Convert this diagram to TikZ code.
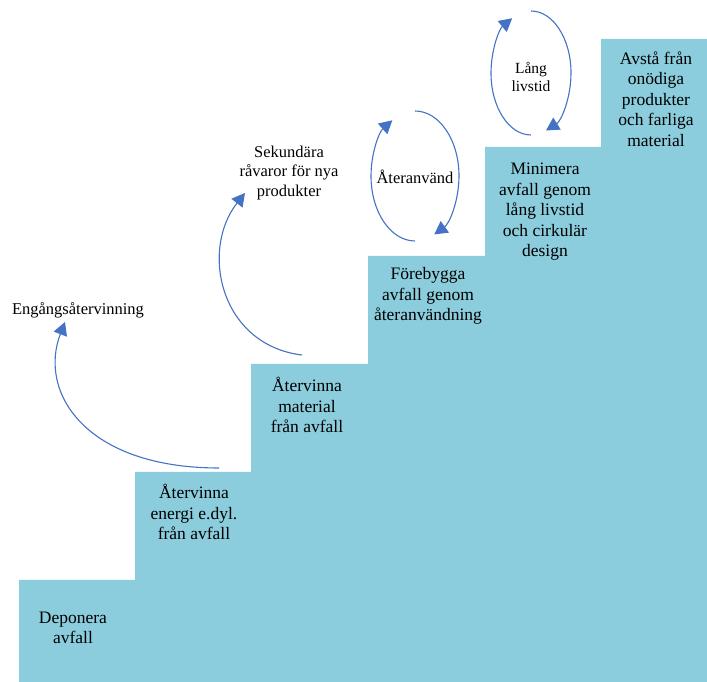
\documentclass[tikz,border=0pt]{standalone}
\usepackage{fontspec}
\setmainfont{Liberation Serif}
\usetikzlibrary{positioning}
\usetikzlibrary{arrows.meta}

\definecolor{stairblue}{RGB}{139,205,221}
\definecolor{flowblue}{RGB}{68,114,196}

\begin{document}
\begin{tikzpicture}[
    x=1pt, y=1pt,
    steptext/.style={align=center, inner sep=0pt, font=\fontsize{17.5}{20.5}\selectfont},
    sidetext/.style={align=center, inner sep=0pt, font=\fontsize{16.5}{19.5}\selectfont},
    flow/.style={draw=flowblue, line width=1.1pt, -{Triangle[length=13pt,width=14pt]}},
  ]
  \useasboundingbox (0,0) rectangle (707,682);

  \fill[stairblue] (19,0) |- (135,102) |- (251,210) |- (368,318) |- (485,426) |- (601,535) |- (707,643) -- (707,0) -- cycle;

  \node [steptext] (D1) at (73,54) {Deponera\\avfall};
  \node [steptext] (D2) at (194,170) {Återvinna\\energi e.dyl.\\från avfall};
  \node [steptext] (D3) at (307,277) {Återvinna\\material\\från avfall};
  \node [steptext] (D4) at (428,386) {Förebygga\\avfall genom\\återanvändning};
  \node [steptext] (D5) at (545,470) {Minimera\\avfall genom\\lång livstid\\och cirkulär\\design};
  \node [steptext] (D6) at (656,583) {Avstå från\\onödiga\\produkter\\och farliga\\material};

  \node [sidetext, anchor=base] (ENG) at (78,367) {Engångsåtervinning};
  \node [sidetext] (SEK) at (289,509) {Sekundära\\råvaror för nya\\produkter};
  \node [sidetext] (REUSE) at (415,505) {Återanvänd};
  \node [sidetext, font=\fontsize{15.5}{18.5}\selectfont] (LIFE) at (531,605) {Lång\\livstid};

  \coordinate (ENGFROM) at (219,214);
  \coordinate (ENGTIP) at (65,360);
  \coordinate (SEKFROM) at (302,327);
  \coordinate (SEKTIP) at (245,489);

  \draw [flow] (ENGFROM) .. controls (85,214) and (38,290) .. (ENGTIP);
  \draw [flow] (SEKFROM) .. controls (220,337) and (200,432) .. (SEKTIP);

  \draw [flow] ([yshift=66pt]REUSE.center) arc[start angle=90, end angle=-64, x radius=44pt, y radius=65pt];
  \draw [flow] ([yshift=-64pt]REUSE.center) arc[start angle=270, end angle=121, x radius=44pt, y radius=65pt];

  \draw [flow] ([yshift=66pt]LIFE.center) arc[start angle=90, end angle=-68, x radius=40pt, y radius=62pt];
  \draw [flow] ([yshift=-58pt]LIFE.center) arc[start angle=270, end angle=118, x radius=40pt, y radius=62pt];

\end{tikzpicture}
\end{document}
